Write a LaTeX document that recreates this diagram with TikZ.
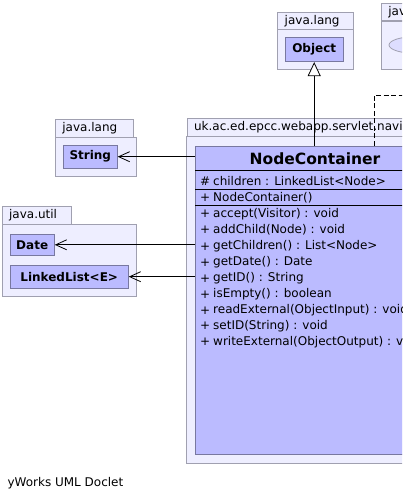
\documentclass[tikz,border=0pt]{standalone}
\usepackage{fontspec}
\setmainfont{DejaVu Sans}
\usetikzlibrary{arrows.meta,positioning,shapes.geometric}

\definecolor{pkgfill}{RGB}{238,238,255}
\definecolor{pkgline}{RGB}{160,160,176}
\definecolor{clsfill}{RGB}{187,187,255}
\definecolor{clsline}{RGB}{120,120,160}
\definecolor{ifcfill}{RGB}{221,221,255}

\tikzset{
  txt/.style = {font=\fontsize{12}{14}\selectfont},
  pkgtab/.style = {draw=pkgline, fill=pkgfill, line width=0.8pt, anchor=north west,
    inner xsep=7pt, inner ysep=0pt, minimum height=17.5pt, align=left, txt},
  pkgbody/.style = {draw=pkgline, fill=pkgfill, line width=0.8pt, anchor=north west,
    inner sep=0pt},
  classbox/.style = {draw=clsline, fill=clsfill, line width=0.8pt, inner sep=0pt,
    minimum height=23pt, font=\fontsize{12}{14}\selectfont\bfseries},
  member/.style = {anchor=west, inner sep=0pt, txt},
  depend/.style = {-{Straight Barb[length=11pt,width=10pt]}, line width=0.8pt},
  inherit/.style = {-{Triangle[open,length=14pt,width=13pt,fill=white]}, line width=0.8pt},
  realize/.style = {dash pattern=on 5pt off 2.5pt, line width=0.8pt}
}

\begin{document}
\begin{tikzpicture}[x=1pt, y=-1pt]
    \useasboundingbox (0,0) rectangle (402,500);
    \clip (0,0) rectangle (402,500);

    % Packages
    \node[pkgbody, minimum width=76pt, minimum height=40pt] (langA) at (277.3,29.3) {};
    \node[pkgtab, text width=62pt] (langA-tab) at (277.3,11.7) {java.lang};
    \node[pkgbody, minimum width=80.7pt, minimum height=39.3pt] (langB) at (55,136.7) {};
    \node[pkgtab, text width=63.7pt] (langB-tab) at (55,119.3) {java.lang};
    \node[pkgbody, minimum width=134.3pt, minimum height=71.4pt] (util) at (1.7,224.3) {};
    \node[pkgtab, text width=55pt] (util-tab) at (1.7,206) {java.util};
    \node[pkgbody, minimum width=258pt, minimum height=327pt] (nav) at (186,135.7) {};
    \node[pkgtab, text width=243pt] (nav-tab) at (186.7,118.3) {uk.ac.ed.epcc.webapp.servlet.navigation};
    \node[pkgbody, minimum width=80pt, minimum height=48.3pt] (io) at (381,20.7) {};
    \node[pkgtab, text width=66pt] (io-tab) at (381,2.7) {java.io};

    % Classes
    \node[classbox, minimum width=58.3pt, minimum height=24.4pt] (object) at (314.2,49.5) {Object};
    \node[classbox, minimum width=54pt] (string) at (90.3,156.7) {String};
    \node[classbox, minimum width=44.3pt, minimum height=21.7pt] (date) at (32.2,244.8) {Date};
    \node[classbox, minimum width=118.3pt] (linkedlist) at (69.2,276.7) {LinkedList<E>};
    \node[draw=pkgline, fill=ifcfill, ellipse, line width=0.8pt,
      minimum width=52pt, minimum height=16.6pt, inner sep=0pt] (iface) at (415,45) {};

    % NodeContainer
    \node[draw=clsline, fill=clsfill, line width=0.8pt, anchor=north west, inner sep=0pt,
      minimum width=240pt, minimum height=308.6pt] (nc) at (195,145.7) {};
    \node[font=\fontsize{15.5}{18}\selectfont\bfseries] (nc-name) at (315,158.3) {NodeContainer};
    \draw[line width=0.8pt] (195,170) -- (435,170);
    \draw[line width=0.8pt] (195,189) -- (435,189);
    \draw[line width=0.8pt] (195,205.7) -- (435,205.7);

    % Members
    \node[member] (s1) at (200,180.7) {\#};
    \node[member] (m1) at (213,180.7) {children : LinkedList<Node>};
    \node[member] (s2) at (200,197.7) {+};
    \node[member] (m2) at (213,197.7) {NodeContainer()};
    \node[member] (s3) at (200,214) {+};
    \node[member] (m3) at (213,214) {accept(Visitor) : void};
    \node[member] (s4) at (200,230) {+};
    \node[member] (m4) at (213,230) {addChild(Node) : void};
    \node[member] (s5) at (200,246.5) {+};
    \node[member] (m5) at (213,246.5) {getChildren() : List<Node>};
    \node[member] (s6) at (200,262.5) {+};
    \node[member] (m6) at (213,262.5) {getDate() : Date};
    \node[member] (s7) at (200,278.5) {+};
    \node[member] (m7) at (213,278.5) {getID() : String};
    \node[member] (s8) at (200,294.5) {+};
    \node[member] (m8) at (213,294.5) {isEmpty() : boolean};
    \node[member] (s9) at (200,310.5) {+};
    \node[member] (m9) at (213,310.5) {readExternal(ObjectInput) : void};
    \node[member] (s10) at (200,326) {+};
    \node[member] (m10) at (213,326) {setID(String) : void};
    \node[member] (s11) at (200,342) {+};
    \node[member] (m11) at (213,342) {writeExternal(ObjectOutput) : void};

    % Edges
    \coordinate (dashend) at (420,95);
    \draw[inherit] (nc.north -| object.south) -- (object.south);
    \draw[realize] ([xshift=179.3pt]nc.north west) |- (dashend);
    \draw[depend] (nc.west |- string.east) -- (string.east);
    \draw[depend] (nc.west |- date.east) -- (date.east);
    \draw[depend] (nc.west |- linkedlist.east) -- (linkedlist.east);

    \node[member] (footer) at (7.3,482.7) {yWorks UML Doclet};
\end{tikzpicture}
\end{document}
